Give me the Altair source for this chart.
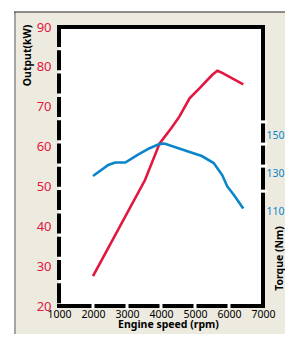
import altair as alt
import pandas as pd

# Output (kW) curve
power_rpm = [2000, 3530, 3960, 4300, 4540, 4840, 5130, 5510, 5660, 5800, 6420]
power_kw = [27.5, 51.6, 60.8, 64.6, 67.5, 72.1, 74.6, 78.0, 79.0, 78.5, 75.6]

# Torque (Nm) curve
torque_rpm = [2000, 2450, 2650, 2950, 3300, 3650, 3950, 4100, 4600, 5200, 5550, 5800, 5950, 6150, 6420]
torque_nm = [128.5, 134.3, 135.6, 135.6, 139.5, 143.0, 145.3, 145.6, 142.6, 139.0, 135.3, 129.0, 123.0, 118.4, 111.4]

x_ticks = [1000, 2000, 3000, 4000, 5000, 6000, 7000]
x_gaps = [2000, 3000, 4000, 5000, 6000]
kw_ticks = [20, 30, 40, 50, 60, 70, 80, 90]
nm_ticks = [110, 130, 150]
nm_gaps = [157, 145.3, 133.7, 120.5]

W, H = 204, 279
PL, PT, PR, PB = 51, 19, 22, 28
RED = "#E2163E"
BLUE = "#0A85C9"
BEIGE = "#EDEBE0"
FONT = "Noto Sans"

one = pd.DataFrame({"a": [0]})

xscale = alt.Scale(domain=[1000, 7000], nice=False, zero=False)
kwscale = alt.Scale(domain=[20, 90], nice=False, zero=False)
nmscale = alt.Scale(domain=[60, 207], nice=False, zero=False)

xaxis = alt.Axis(
    values=x_ticks, title="Engine speed (rpm)", format="d", zindex=2,
    domain=False, ticks=False, grid=False, labelPadding=3, labelOverlap=False,
    labelFlush=False, labelBound=False,
    labelFont=FONT, labelFontSize=10.5, labelColor="black",
    titleFont=FONT, titleFontSize=10.5, titleFontWeight="bold", titleColor="black",
    titleX=109, titleY=21.5, titleAlign="center", titleBaseline="alphabetic")

bg = alt.Chart(one).mark_rect(color=BEIGE).encode(
    x=alt.value(-45), x2=alt.value(W + 40), y=alt.value(-15), y2=alt.value(H + 50))
plot_bg = alt.Chart(one).mark_rect(color="white").encode(
    x=alt.value(0), x2=alt.value(W), y=alt.value(0), y2=alt.value(H))
left_border = alt.Chart(one).mark_rule(color="#A5A5A5", strokeWidth=2).encode(
    x=alt.value(-44), y=alt.value(-15), y2=alt.value(H + 50))
top_border = alt.Chart(one).mark_rule(color="#222222", strokeWidth=1).encode(
    x=alt.value(-45), x2=alt.value(W + 40), y=alt.value(-15))

frame_top = alt.Chart(one).mark_rule(color="black", strokeWidth=4).encode(
    x=alt.value(-2), x2=alt.value(W + 2), y=alt.value(0))
frame_right = alt.Chart(one).mark_rule(color="black", strokeWidth=4).encode(
    x=alt.value(W), y=alt.value(0), y2=alt.value(H + 2))
frame_bottom = alt.Chart(one).mark_rule(color="black", strokeWidth=4).encode(
    x=alt.value(-2), x2=alt.value(W + 2), y=alt.value(H))
frame_left = alt.Chart(one).mark_rule(color="black", strokeWidth=4, strokeDash=[20, 3.3]).encode(
    x=alt.value(0), y=alt.value(0), y2=alt.value(H))

bottom_gaps = alt.Chart(pd.DataFrame({"rpm": x_gaps})).mark_rule(
    color="white", strokeWidth=3).encode(
    x=alt.X("rpm:Q", scale=xscale, axis=xaxis),
    y=alt.value(H - 3), y2=alt.value(H + 3))

power_df = pd.DataFrame({"rpm": power_rpm, "kw": power_kw})
torque_df = pd.DataFrame({"rpm": torque_rpm, "nm": torque_nm})

power = alt.Chart(power_df).mark_line(color=RED, strokeWidth=2.6).encode(
    x=alt.X("rpm:Q", scale=xscale, axis=xaxis),
    y=alt.Y("kw:Q", scale=kwscale, axis=alt.Axis(
        values=kw_ticks, title="Output(kW)", orient="left", zindex=2,
        domain=False, ticks=False, grid=False, labelPadding=8, labelOverlap=False,
        labelFont=FONT, labelFontSize=13, labelColor=RED,
        titleFont=FONT, titleFontSize=10.5, titleFontWeight="bold", titleColor="black",
        titleX=-32, titleY=28, titleAngle=270, titleAlign="center", titleBaseline="middle")),
)

torque_line = alt.Chart(torque_df).mark_line(color=BLUE, strokeWidth=2.6).encode(
    x=alt.X("rpm:Q", scale=xscale, axis=xaxis),
    y=alt.Y("nm:Q", scale=nmscale, axis=alt.Axis(
        values=nm_ticks, title="Torque (Nm)", orient="right", zindex=2,
        domain=False, ticks=False, grid=False, labelPadding=3, labelOverlap=False,
        labelFont=FONT, labelFontSize=10.5, labelColor=BLUE,
        titleFont=FONT, titleFontSize=10.5, titleFontWeight="bold", titleColor="black",
        titleX=16, titleY=231, titleAngle=270, titleAlign="center", titleBaseline="middle")),
)

right_gaps = alt.Chart(pd.DataFrame({"nm2": nm_gaps})).mark_rule(
    color="white", strokeWidth=3).encode(
    y=alt.Y("nm2:Q", scale=nmscale, axis=None),
    x=alt.value(W - 3), x2=alt.value(W + 4))

chart = alt.layer(
    bg, left_border, top_border, plot_bg, frame_top, frame_right,
    frame_bottom, frame_left, bottom_gaps, right_gaps, power, torque_line
).resolve_scale(y="independent").properties(
    width=W, height=H,
    autosize=alt.AutoSizeParams(type="none"),
    padding={"left": PL, "top": PT, "right": PR, "bottom": PB},
    background="white",
).configure_view(stroke=None)

chart.save("out.html", embed_options={"renderer": "svg", "actions": False})
